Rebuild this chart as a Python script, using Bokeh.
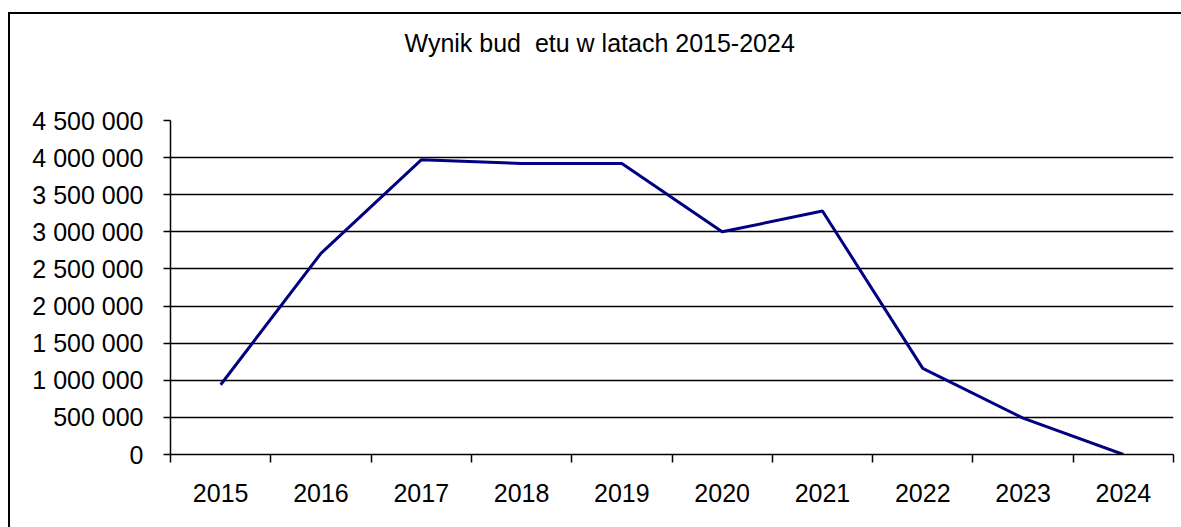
from bokeh.plotting import figure
from bokeh.models import FixedTicker, Grid, Range1d, Title
from bokeh.embed import file_html
from bokeh.resources import INLINE

years = ["2015", "2016", "2017", "2018", "2019", "2020", "2021", "2022", "2023", "2024"]
values = [940000, 2710000, 3970000, 3920000, 3920000, 3000000, 3280000, 1160000, 490000, 0]
y_ticks = [0, 500000, 1000000, 1500000, 2000000, 2500000, 3000000, 3500000, 4000000, 4500000]
y_tick_labels = ["0", "500 000", "1 000 000", "1 500 000", "2 000 000", "2 500 000",
                 "3 000 000", "3 500 000", "4 000 000", "4 500 000"]
title_text = "Wynik bud \u00a0etu w latach 2015-2024"

FONT = "Liberation Sans"
FS = "25px"

x = [i + 0.5 for i in range(len(years))]

p = figure(output_backend="svg", toolbar_location=None,
           x_range=Range1d(0, len(years)), y_range=Range1d(y_ticks[0], y_ticks[-1]),
           frame_width=1003, frame_height=334,
           min_border_left=160, min_border_top=106, min_border_right=8, min_border_bottom=73)
p.outline_line_color = None
p.background_fill_color = "white"
p.border_fill_color = "white"
p.styles = {"border-left": "2px solid black", "border-top": "2px solid black",
            "margin-left": "8px", "margin-top": "12px"}

# title
p.title.text = title_text
p.title.align = "left"
p.title.offset = 234
p.title.text_font = FONT
p.title.text_font_size = FS
p.title.text_font_style = "normal"
p.title.text_color = "black"
spacer = Title(text=" ", text_font_size="42px")
p.add_layout(spacer, "above")

# x axis
xa = p.xaxis[0]
xa.ticker = FixedTicker(ticks=x, minor_ticks=list(range(len(years) + 1)))
xa.major_label_overrides = {xi: yr for xi, yr in zip(x, years)}
xa.major_tick_line_color = None
xa.major_tick_out = 0
xa.major_tick_in = 0
xa.minor_tick_out = 8
xa.minor_tick_in = 0
xa.minor_tick_line_color = "black"
xa.minor_tick_line_width = 1.5
xa.axis_line_color = "black"
xa.axis_line_width = 1.5
xa.major_label_text_font = FONT
xa.major_label_text_font_size = FS
xa.major_label_text_color = "black"
xa.major_label_standoff = 21

# y axis
ya = p.yaxis[0]
ya.ticker = FixedTicker(ticks=y_ticks, minor_ticks=[])
ya.major_label_overrides = {t: l for t, l in zip(y_ticks, y_tick_labels)}
ya.major_tick_out = 7
ya.major_tick_in = 0
ya.major_tick_line_color = "black"
ya.major_tick_line_width = 1.5
ya.minor_tick_line_color = None
ya.axis_line_color = "black"
ya.axis_line_width = 1.5
ya.major_label_text_font = FONT
ya.major_label_text_font_size = FS
ya.major_label_text_color = "black"
ya.major_label_standoff = 20

# grids
p.xgrid.visible = False
p.ygrid.ticker = FixedTicker(ticks=y_ticks[1:-1])
p.ygrid.grid_line_color = "black"
p.ygrid.grid_line_width = 1.5
top_grid = Grid(dimension=1, ticker=FixedTicker(ticks=[y_ticks[-1]]),
                grid_line_color="#c8c8c8", grid_line_width=2)
p.add_layout(top_grid)

p.line(x, values, line_color="#000080", line_width=3)

open("out.html", "w").write(file_html(p, INLINE))
